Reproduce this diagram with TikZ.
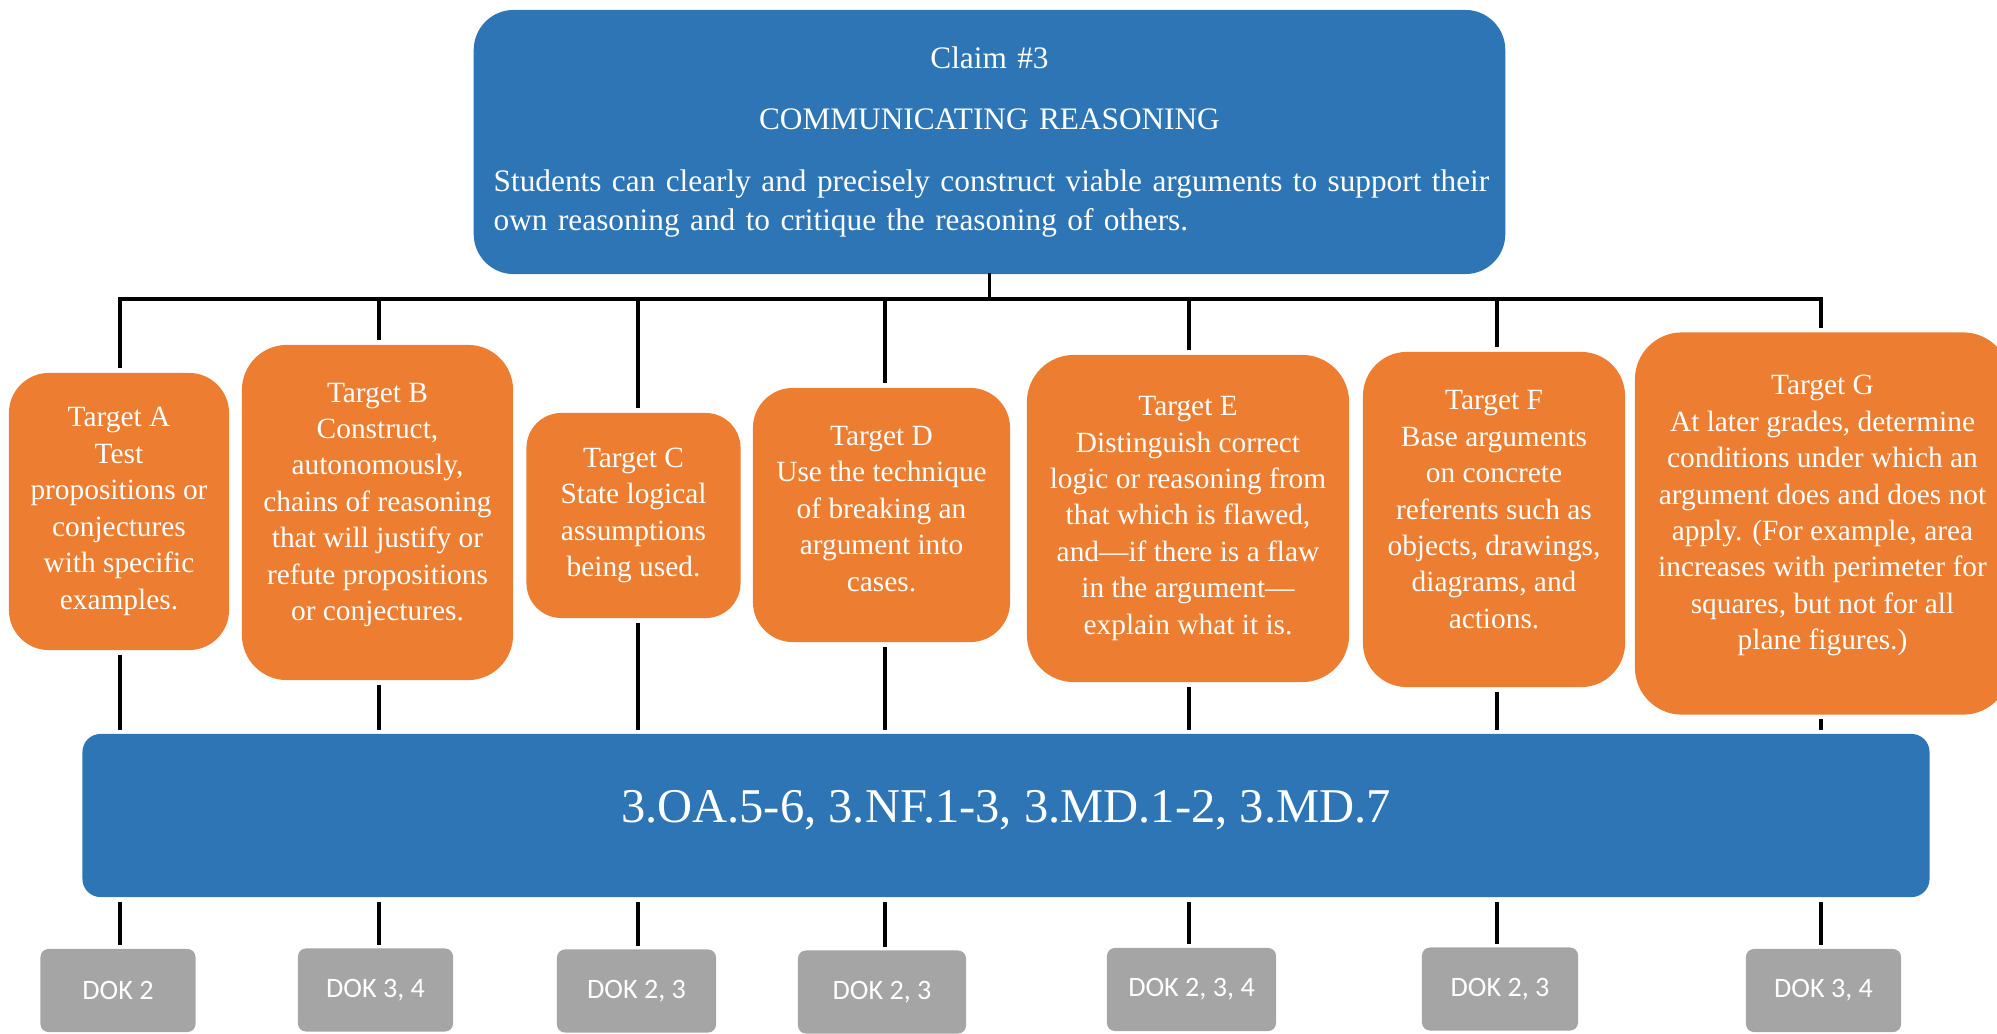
\documentclass[tikz,border=0pt]{standalone}
\usepackage{fontspec}
\setmainfont{Liberation Serif}
\newfontfamily\dokfont{Carlito}
\definecolor{claimblue}{HTML}{2E75B6}
\definecolor{targetorange}{HTML}{ED7D31}
\definecolor{dokgrey}{HTML}{A5A5A5}
\tikzset{
  claimbox/.style={fill=claimblue,text=white,inner sep=0pt},
  targetbox/.style={fill=targetorange,text=white,rounded corners=0.4cm,align=center,inner sep=0pt,
    font=\fontsize{8.35}{10.36}\selectfont},
  dokbox/.style={fill=dokgrey,text=white,rounded corners=0.08cm,minimum width=1.55cm,minimum height=0.83cm,
    inner sep=0pt,font=\dokfont\fontsize{8}{9.6}\selectfont},
  bus/.style={line width=1.1pt,line cap=rect},
  drop/.style={line width=1.1pt,shorten >=0.04cm},
  link/.style={line width=1.1pt,shorten <=0.04cm,shorten >=0.03cm}
}

\begin{document}
\begin{tikzpicture}[x=0.01cm,y=-0.01cm]
\clip (0,0) rectangle (1997,1033);

% claim
\node[claimbox,rounded corners=0.4cm,minimum width=10.31cm,minimum height=2.64cm,text width=9.91cm,align=left,
  font=\fontsize{8.9}{10.9}\selectfont] (claim) at (989.5,142)
  {\setlength{\parindent}{0pt}\centering Claim \#3\par
   \vspace{6.3pt}COMMUNICATING REASONING\par
   \vspace{6.8pt}\raggedright \mbox{Students can clearly and precisely construct viable arguments to support their}\\
   own reasoning and to critique the reasoning of others.};

% targets
\node[targetbox,minimum width=2.2cm,minimum height=2.77cm] (tA) at (119,511.5)
  {Target A\\Test\\propositions or\\conjectures\\with specific\\examples.};
\node[targetbox,minimum width=2.71cm,minimum height=3.35cm,rounded corners=0.45cm,text depth=6.1pt] (tB) at (377.5,512.5)
  {Target B\\Construct,\\autonomously,\\chains of reasoning\\that will justify or\\refute propositions\\or conjectures.};
\node[targetbox,minimum width=2.14cm,minimum height=2.05cm,rounded corners=0.35cm] (tC) at (633.5,515.5)
  {Target C\\State logical\\assumptions\\being used.};
\node[targetbox,minimum width=2.57cm,minimum height=2.54cm,text depth=3.6pt] (tD) at (881.5,515)
  {Target D\\Use the technique\\of breaking an\\argument into\\cases.};
\node[targetbox,minimum width=3.22cm,minimum height=3.27cm,rounded corners=0.47cm] (tE) at (1188,518.5)
  {Target E\\Distinguish correct\\logic or reasoning from\\that which is flawed,\\and---if there is a flaw\\in the argument---\\explain what it is.};
\node[targetbox,minimum width=2.62cm,minimum height=3.35cm,rounded corners=0.44cm,text depth=5.7pt] (tF) at (1494,519.5)
  {Target F\\Base arguments\\on concrete\\referents such as\\objects, drawings,\\diagrams, and\\actions.};
\node[targetbox,minimum width=3.75cm,minimum height=3.82cm,rounded corners=0.47cm,text depth=6.2pt] (tG) at (1822.5,523.5)
  {Target G\\At later grades, determine\\conditions under which an\\argument does and does not\\apply. (For example, area\\increases with perimeter for\\squares, but not for all\\plane figures.)};

% standards
\node[claimbox,rounded corners=0.18cm,minimum width=18.46cm,minimum height=1.63cm,text depth=5.3pt,
  font=\fontsize{13.8}{16}\selectfont] (std) at (1006,815.5) {3.OA.5-6, 3.NF.1-3, 3.MD.1-2, 3.MD.7};

% depth of knowledge
\node[dokbox] (dA) at (118,990.5) {DOK 2};
\node[dokbox] (dB) at (375.5,990) {DOK 3, 4};
\node[dokbox,minimum width=1.59cm] (dC) at (636.5,991) {DOK 2, 3};
\node[dokbox,minimum width=1.68cm] (dD) at (882,992) {DOK 2, 3};
\node[dokbox,minimum width=1.69cm] (dE) at (1191.5,989.5) {DOK 2, 3, 4};
\node[dokbox,minimum width=1.56cm] (dF) at (1500,989) {DOK 2, 3};
\node[dokbox] (dG) at (1823.5,990.5) {DOK 3, 4};

\coordinate (busA) at (120,299);
\coordinate (busB) at (379,299);
\coordinate (busC) at (638,299);
\coordinate (busD) at (885,299);
\coordinate (busE) at (1189,299);
\coordinate (busF) at (1497,299);
\coordinate (busG) at (1821,299);

\draw[bus] (busA) -- (busG);
\draw[bus] (claim.south) -- (claim.south |- busA);

\draw[drop] (busA) -- (busA |- tA.north); \draw[link] (busA |- tA.south) -- (busA |- std.north); \draw[link] (busA |- std.south) -- (dA.north -| busA);
\draw[drop] (busB) -- (busB |- tB.north); \draw[link] (busB |- tB.south) -- (busB |- std.north); \draw[link] (busB |- std.south) -- (dB.north -| busB);
\draw[drop] (busC) -- (busC |- tC.north); \draw[link] (busC |- tC.south) -- (busC |- std.north); \draw[link] (busC |- std.south) -- (dC.north -| busC);
\draw[drop] (busD) -- (busD |- tD.north); \draw[link] (busD |- tD.south) -- (busD |- std.north); \draw[link] (busD |- std.south) -- (dD.north -| busD);
\draw[drop] (busE) -- (busE |- tE.north); \draw[link] (busE |- tE.south) -- (busE |- std.north); \draw[link] (busE |- std.south) -- (dE.north -| busE);
\draw[drop] (busF) -- (busF |- tF.north); \draw[link] (busF |- tF.south) -- (busF |- std.north); \draw[link] (busF |- std.south) -- (dF.north -| busF);
\draw[drop] (busG) -- (busG |- tG.north); \draw[link] (busG |- tG.south) -- (busG |- std.north); \draw[link] (busG |- std.south) -- (dG.north -| busG);

\end{tikzpicture}
\end{document}
